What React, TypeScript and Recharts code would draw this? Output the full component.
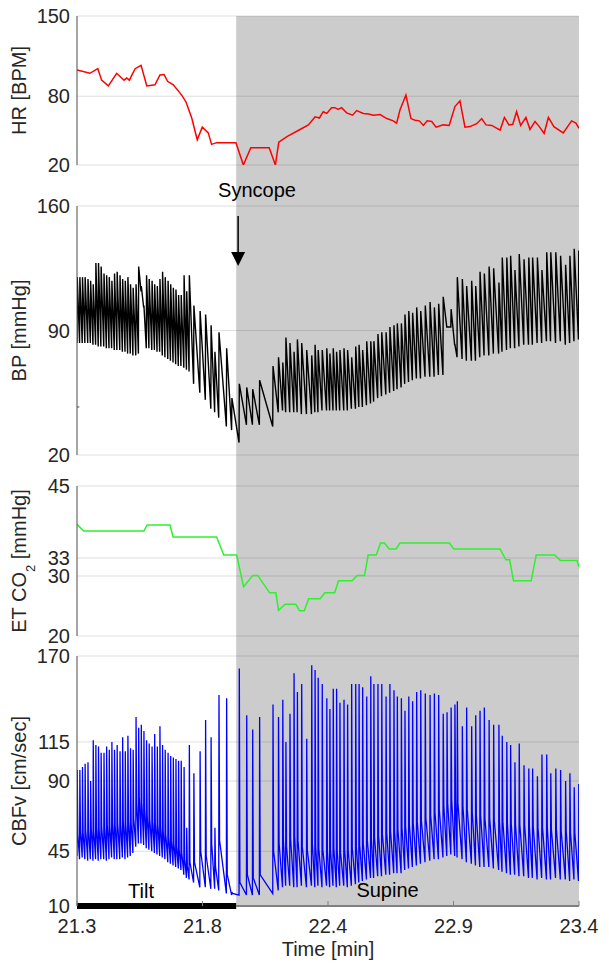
import React from 'react';
import {
  LineChart,
  Line,
  XAxis,
  YAxis,
  CartesianGrid,
  ReferenceArea,
  ReferenceLine,
  ReferenceDot,
} from 'recharts';

const FONT = '"Liberation Sans", Arial, Helvetica, sans-serif';
const INK = '#262626';
const PAGE_W = 609;
const PAGE_H = 973;
const X_DOMAIN: [number, number] = [21.3, 23.4];

// phase markers (min)
const SUPINE_START = 21.966;
const SYNCOPE_AT = 21.974;

const timeTicks = [21.3, 21.825, 22.35, 22.875, 23.4];
const timeTickLabels = ['21.3', '21.8', '22.4', '22.9', '23.4'];

// heart rate trace
const hrTime = [
  21.3, 21.354, 21.387, 21.403, 21.431, 21.466, 21.497, 21.508, 21.519, 21.543,
  21.568, 21.592, 21.626, 21.647, 21.664, 21.679, 21.703, 21.738, 21.756, 21.78,
  21.803, 21.824, 21.849, 21.863, 21.884, 21.965, 21.996, 22.027, 22.104, 22.13,
  22.144, 22.18, 22.233, 22.268, 22.296, 22.314, 22.33, 22.345, 22.365, 22.379,
  22.393, 22.407, 22.428, 22.453, 22.47, 22.498, 22.519, 22.54, 22.568, 22.596,
  22.623, 22.637, 22.651, 22.676, 22.697, 22.714, 22.732, 22.749, 22.765, 22.784,
  22.802, 22.832, 22.857, 22.881, 22.902, 22.923, 22.944, 22.972, 22.993, 23.011,
  23.035, 23.07, 23.088, 23.107, 23.123, 23.139, 23.156, 23.178, 23.195, 23.216,
  23.234, 23.254, 23.272, 23.295, 23.334, 23.369, 23.387, 23.4,
];
const hrValue = [
  103, 100, 104, 94, 89, 100, 94, 96, 94, 104,
  107, 89, 90, 98.5, 99, 93, 90, 81, 75, 61,
  42, 53, 48, 38, 39.5, 39.5, 20, 35, 35, 20,
  40, 45, 51, 55, 62, 61, 66.5, 65, 70, 70,
  68.5, 70, 65.5, 63.5, 67.5, 65, 64.5, 63.5, 64, 60.5,
  58.5, 56.5, 68, 81, 60.5, 59, 58.5, 54.5, 58.5, 58,
  53, 55, 54.5, 71, 76, 53, 53.5, 56, 60.5, 55,
  54.5, 50.5, 61.5, 55, 55.5, 66.5, 54.5, 61.5, 51, 58,
  53.5, 47.5, 61.5, 53.5, 48, 58.5, 56.5, 52,
];

// end-tidal CO2 trace
const co2Time = [
  21.3, 21.328, 21.58, 21.593, 21.689, 21.702, 21.884, 21.914, 21.968, 21.997,
  22.036, 22.056, 22.106, 22.132, 22.143, 22.171, 22.215, 22.231, 22.251, 22.269,
  22.317, 22.337, 22.378, 22.394, 22.451, 22.472, 22.503, 22.518, 22.552, 22.57,
  22.586, 22.606, 22.635, 22.651, 22.858, 22.876, 23.07, 23.094, 23.11, 23.126,
  23.2, 23.221, 23.298, 23.322, 23.392, 23.4,
];
const co2Value = [
  38.6, 37.5, 37.5, 38.5, 38.5, 36.5, 36.5, 33.5, 33.5, 28.2,
  30.1, 30.1, 27.2, 27.2, 24.3, 25.3, 25.3, 24.2, 24.2, 26.2,
  26.2, 27.2, 27.2, 29.2, 29.2, 30.1, 30.1, 33.5, 33.5, 35.5,
  35.5, 34.5, 34.5, 35.5, 35.5, 34.5, 34.5, 32.7, 32.7, 29.2,
  29.2, 33.5, 33.5, 32.6, 32.6, 31.5,
];

// beat-by-beat: time of each systolic peak (min)
const beatTime = [
  21.301, 21.312, 21.323, 21.334, 21.346, 21.357, 21.368, 21.379, 21.39, 21.401,
  21.413, 21.424, 21.435, 21.446, 21.457, 21.468, 21.48, 21.491, 21.502, 21.513,
  21.524, 21.535, 21.547, 21.558, 21.569, 21.58, 21.591, 21.602, 21.614, 21.625,
  21.636, 21.647, 21.658, 21.669, 21.681, 21.692, 21.703, 21.714, 21.725, 21.736,
  21.748, 21.759, 21.77,
  21.789, 21.815, 21.838, 21.861, 21.877, 21.894, 21.926, 21.948,
  21.979, 22.01, 22.035, 22.064, 22.12, 22.143, 22.161, 22.174, 22.191, 22.208, 22.222,
  22.24, 22.261, 22.282, 22.296, 22.309, 22.326, 22.345, 22.358, 22.372, 22.386,
  22.4, 22.417, 22.432, 22.449, 22.466, 22.48, 22.495, 22.512, 22.529, 22.542,
  22.559, 22.575, 22.593, 22.609, 22.626, 22.64, 22.657, 22.672, 22.688, 22.704,
  22.721, 22.738, 22.757, 22.777, 22.795, 22.813, 22.832,
  22.848, 22.865, 22.881,
  22.891, 22.912, 22.93, 22.951, 22.968, 22.986, 23.004, 23.024, 23.043, 23.065,
  23.079, 23.098, 23.114, 23.132, 23.15, 23.17, 23.19, 23.206, 23.226, 23.245,
  23.265, 23.282, 23.303, 23.323, 23.344, 23.362, 23.38, 23.399,
];

// arterial pressure: systolic peak and the trough just before it
const bpSys = [
  120, 120, 120, 120, 119, 118, 116, 128, 128, 126,
  122, 121, 120, 118, 122, 123, 121, 119, 118, 120,
  116, 114, 116, 126, 115, 104, 121, 119, 118, 116,
  115, 119, 123, 120, 118, 116, 114, 113, 110, 110,
  121, 112, 121,
  104, 101, 99, 93, 78, 89, 80, 52,
  60, 58, 57, 62, 70, 75, 72, 86, 83, 78, 85,
  83, 79, 76, 82, 79, 79, 80, 77, 80, 78,
  79, 80, 79, 75, 81, 82, 79, 84, 84, 84,
  88, 89, 89, 92, 93, 94, 94, 99, 101, 100,
  103, 101, 104, 106, 103, 105, 109,
  92, 102, 82,
  120, 119, 115, 118, 115, 123, 122, 126, 125, 117,
  131, 131, 132, 124, 133, 130, 131, 131, 131, 124,
  134, 134, 134, 132, 127, 132, 136, 135,
];
const bpDia = [
  83, 83, 83, 83, 83, 83, 82, 82, 81, 81,
  81, 80, 80, 80, 79, 79, 79, 78, 78, 77,
  77, 76, 76, 77, 112, 103, 80, 80, 79, 79,
  78, 78, 76, 75, 74, 73, 72, 71, 70, 70,
  69, 68, 67,
  60, 55, 51, 46, 44, 41, 36, 34,
  27, 37, 37, 37, 36, 44, 45, 44, 44, 44, 44,
  43, 43, 43, 44, 44, 45, 45, 45, 45, 45,
  45, 45, 45, 46, 46, 47, 47, 48, 49, 50,
  52, 53, 54, 55, 56, 57, 58, 60, 61, 62,
  63, 63, 64, 64, 64, 65, 65,
  92, 92, 82,
  75, 74, 73, 73, 73, 75, 76, 76, 77, 77,
  78, 79, 80, 80, 81, 82, 82, 82, 83, 83,
  84, 84, 83, 84, 82, 83, 84, 85,
];

// cerebral flow velocity: peak, post-peak level, trough before the peak
const cbfSys = [
  97, 97, 99, 101, 102, 90, 116, 113, 112, 108,
  108, 112, 110, 115, 110, 113, 109, 118, 109, 119,
  111, 110, 131, 124, 126, 122, 116, 114, 112, 120,
  112, 125, 113, 110, 108, 106, 105, 104, 103, 103,
  99, 60, 113,
  95, 109, 129, 118, 60, 145, 143, 19,
  162, 132, 123, 131, 139, 131, 142, 115, 133, 159, 147,
  152, 117, 164, 161, 156, 152, 143, 136, 149, 149,
  140, 142, 139, 152, 152, 152, 150, 144, 157, 152,
  152, 152, 144, 152, 148, 144, 143, 135, 144, 141,
  147, 148, 146, 145, 146, 145, 133,
  134, 137, 139,
  141, 125, 137, 125, 132, 135, 137, 129, 126, 126,
  119, 115, 113, 102, 114, 100, 98, 98, 93, 107,
  107, 95, 98, 97, 90, 95, 86, 88,
];
const cbfMid = [
  56, 58, 57, 59, 58, 60, 58, 60, 59, 61,
  60, 62, 61, 63, 62, 63, 62, 64, 62, 64,
  63, 66, 76, 80, 76, 72, 68, 66, 64, 63,
  62, 60, 58, 56, 54, 52, 50, 48, 46, 44,
  40, 36, 38,
  38, 45, 42, 50, 35, 52, 30, 18,
  25, 30, 28, 30, 45, 50, 52, 48, 53, 55, 52,
  48, 46, 50, 48, 47, 46, 45, 46, 47, 45,
  44, 46, 45, 47, 48, 49, 50, 52, 53, 54,
  55, 56, 57, 58, 58, 59, 60, 61, 62, 63,
  64, 65, 66, 68, 70, 72, 74,
  76, 78, 78,
  76, 74, 72, 70, 68, 68, 66, 66, 65, 64,
  64, 63, 63, 62, 62, 62, 61, 61, 60, 60,
  60, 59, 59, 58, 58, 57, 57, 56,
];
const cbfDia = [
  42, 40, 41, 40, 39, 40, 39, 40, 39, 40,
  40, 39, 40, 41, 40, 40, 40, 41, 40, 41,
  42, 44, 48, 50, 50, 49, 47, 46, 45, 44,
  43, 42, 41, 40, 38, 37, 36, 35, 34, 33,
  30, 28, 27,
  25, 22, 22, 21, 21, 20, 18, 17,
  17, 17, 17, 17, 18, 20, 22, 23, 23, 22, 22,
  23, 22, 23, 22, 23, 22, 23, 22, 23, 22,
  23, 23, 22, 23, 24, 25, 26, 27, 28, 28,
  29, 29, 30, 30, 31, 31, 31, 33, 34, 35,
  36, 37, 38, 39, 40, 40, 41,
  42, 43, 42,
  41, 40, 38, 37, 36, 35, 35, 35, 34, 33,
  32, 31, 30, 30, 29, 29, 28, 28, 27, 28,
  27, 27, 28, 27, 27, 26, 27, 26,
];

// upstroke and fast fall-off duration inside one beat (min)
const RISE = 0.0012;
const FALL = 0.0025;

const hrData = hrTime.map((t, i) => ({ t, v: hrValue[i] }));
const co2Data = co2Time.map((t, i) => ({ t, v: co2Value[i] }));
const bpData = beatTime.flatMap((t, i) => [
  { t: t - RISE, v: bpDia[i] },
  { t, v: bpSys[i] },
]);
const cbfData = beatTime.flatMap((t, i) => [
  { t: t - RISE, v: cbfDia[i] },
  { t, v: cbfSys[i] },
  { t: t + FALL, v: cbfMid[i] },
]);

const tickStyle = { fill: INK, fontSize: 20, fontFamily: FONT };

function yTitle(content: React.ReactNode) {
  return (props: any) => {
    const vb = props.viewBox;
    const cx = vb.x + 9;
    const cy = vb.y + vb.height / 2;
    return (
      <text
        x={cx}
        y={cy}
        transform={`rotate(-90 ${cx} ${cy})`}
        textAnchor="middle"
        fill={INK}
        fontSize={20}
        fontFamily={FONT}
      >
        {content}
      </text>
    );
  };
}

function timeTitle(props: any) {
  const vb = props.viewBox;
  return (
    <text x={vb.x + vb.width / 2} y={vb.y + 50} textAnchor="middle" fill={INK} fontSize={20} fontFamily={FONT}>
      Time [min]
    </text>
  );
}

function TimeTick(props: any) {
  const { x, y, payload } = props;
  const idx = timeTicks.findIndex(v => Math.abs(v - payload.value) < 1e-6);
  const axisY = y - 27;
  return (
    <g>
      <line x1={x} x2={x} y1={axisY} y2={axisY - 5} stroke="#808080" strokeWidth={1} />
      <text x={x} y={y} textAnchor="middle" fill={INK} fontSize={20} fontFamily={FONT}>
        {timeTickLabels[idx]}
      </text>
    </g>
  );
}

function SyncopeArrow(props: any) {
  const { x1, y1, y2 } = props;
  return (
    <g>
      <text x={x1 - 20} y={y1 - 19} fill="#000" fontSize={20} fontFamily={FONT}>
        Syncope
      </text>
      <line x1={x1} x2={x1} y1={y1} y2={y2 - 12} stroke="#000" strokeWidth={1.5} />
      <polygon points={`${x1 - 7},${y2 - 14} ${x1 + 7},${y2 - 14} ${x1},${y2}`} fill="#000" />
    </g>
  );
}

function PhaseText({ text }: { text: string }) {
  return (props: any) => (
    <text x={props.cx} y={props.cy} textAnchor="middle" fill="#000" fontSize={20} fontFamily={FONT}>
      {text}
    </text>
  );
}

// gray supine band; extends below the plot by `gap` px so the panels join up
function supineBand(gap: number) {
  return (props: any) => (
    <rect x={props.x} y={props.y} width={props.width} height={props.height + gap} fill="#cccccc" />
  );
}

function tiltBar(props: any) {
  const mid = props.y + props.height;
  return <rect x={props.x} y={mid - 3} width={props.width} height={6} fill="#000000" />;
}

const layer: React.CSSProperties = { position: 'absolute', left: 0, top: 0 };

function hiddenX() {
  return <XAxis type="number" dataKey="t" domain={X_DOMAIN} allowDataOverflow hide />;
}

export default function App() {
  const yAxisCommon = {
    type: 'number' as const,
    allowDataOverflow: true,
    width: 60,
    interval: 0 as const,
    tickLine: false,
    tickSize: 0,
    tickMargin: 7,
    axisLine: { stroke: '#4d4d4d' },
    tick: tickStyle,
  };
  const grid = <CartesianGrid vertical={false} stroke={INK} strokeOpacity={0.15} />;

  return (
    <div style={{ position: 'absolute', left: 0, top: 0, width: PAGE_W, height: PAGE_H, background: '#fff' }}>
      {/* HR */}
      <div style={layer}>
        <LineChart width={PAGE_W} height={PAGE_H} margin={{ top: 16, right: 30, bottom: 808, left: 17 }}>
          <ReferenceArea x1={SUPINE_START} x2={23.4} y1={20} y2={150} ifOverflow="visible" zIndex={-200} shape={supineBand(41)} />
          {grid}
          {hiddenX()}
          <YAxis {...yAxisCommon} domain={[20, 150]} ticks={[20, 80, 150]} label={yTitle('HR [BPM]')} />
          <Line data={hrData} dataKey="v" type="linear" stroke="#ff0000" strokeWidth={1.5} dot={false} isAnimationActive={false} />
        </LineChart>
      </div>

      {/* BP */}
      <div style={layer}>
        <LineChart width={PAGE_W} height={PAGE_H} margin={{ top: 206, right: 30, bottom: 518, left: 17 }}>
          <ReferenceArea x1={SUPINE_START} x2={23.4} y1={20} y2={160} ifOverflow="visible" zIndex={-200} shape={supineBand(31)} />
          {grid}
          {hiddenX()}
          <YAxis {...yAxisCommon} domain={[20, 160]} ticks={[20, 90, 160]} label={yTitle('BP [mmHg]')} />
          <ReferenceLine segment={[{ x: 21.3, y: 47 }, { x: 21.31, y: 47 }]} stroke="#4d4d4d" />
          <Line data={bpData} dataKey="v" type="linear" stroke="#000000" strokeWidth={1.4} dot={false} isAnimationActive={false} />
          <ReferenceLine
            segment={[{ x: SYNCOPE_AT, y: 154.4 }, { x: SYNCOPE_AT, y: 126.3 }]}
            ifOverflow="visible"
            shape={SyncopeArrow}
          />
        </LineChart>
      </div>

      {/* ET CO2 */}
      <div style={layer}>
        <LineChart width={PAGE_W} height={PAGE_H} margin={{ top: 486, right: 30, bottom: 337, left: 17 }}>
          <ReferenceArea x1={SUPINE_START} x2={23.4} y1={20} y2={45} ifOverflow="visible" zIndex={-200} shape={supineBand(20)} />
          {grid}
          {hiddenX()}
          <YAxis
            {...yAxisCommon}
            domain={[20, 45]}
            ticks={[20, 30, 33, 45]}
            label={yTitle(
              <>
                ET CO<tspan dy={9} fontSize={13}>2</tspan>
                <tspan dy={-9}> [mmHg]</tspan>
              </>
            )}
          />
          <Line data={co2Data} dataKey="v" type="linear" stroke="#2ef02e" strokeWidth={1.5} dot={false} isAnimationActive={false} />
        </LineChart>
      </div>

      {/* CBFv */}
      <div style={layer}>
        <LineChart width={PAGE_W} height={PAGE_H} margin={{ top: 656, right: 30, bottom: 37, left: 17 }}>
          <ReferenceArea x1={SUPINE_START} x2={23.4} y1={10} y2={170} ifOverflow="visible" zIndex={-200} shape={supineBand(0)} />
          {grid}
          <XAxis
            type="number"
            dataKey="t"
            domain={X_DOMAIN}
            allowDataOverflow
            ticks={timeTicks}
            interval={0}
            height={30}
            tickLine={false}
            tickSize={0}
            tickMargin={27}
            axisLine={false}
            tick={TimeTick}
            label={timeTitle}
          />
          <YAxis {...yAxisCommon} domain={[10, 170]} ticks={[10, 45, 90, 115, 170]} label={yTitle('CBFv [cm/sec]')} />
          <Line data={cbfData} dataKey="v" type="linear" stroke="#0000ff" strokeWidth={1.3} dot={false} isAnimationActive={false} />
          <ReferenceLine
            segment={[{ x: SUPINE_START, y: 10 }, { x: 23.4, y: 10 }]}
            ifOverflow="visible"
            stroke="#808080"
            strokeWidth={2}
          />
          <ReferenceArea x1={21.3} x2={SUPINE_START} y1={10} y2={11} ifOverflow="visible" shape={tiltBar} />
          <ReferenceDot x={21.568} y={15.2} r={0} ifOverflow="visible" shape={PhaseText({ text: 'Tilt' })} />
          <ReferenceDot x={22.599} y={15.6} r={0} ifOverflow="visible" shape={PhaseText({ text: 'Supine' })} />
        </LineChart>
      </div>
    </div>
  );
}
